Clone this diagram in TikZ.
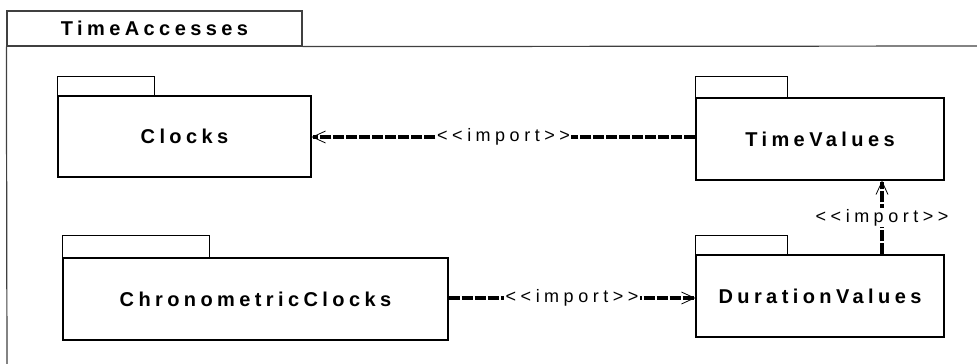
\documentclass[tikz,border=0pt]{standalone}
\usepackage{fontspec}
\setmainfont{Liberation Sans}
\newfontfamily\pkgfont[LetterSpace=22]{Liberation Sans}
\newfontfamily\lblfont[LetterSpace=25]{Liberation Sans}
\usetikzlibrary{arrows.meta}
\begin{document}
\begin{tikzpicture}[x=1pt,y=-1pt,
  pkg/.style={draw, line width=1.2pt, inner sep=0pt, font=\pkgfont\bfseries\fontsize{20}{23}\selectfont},
  pkgtab/.style={draw, line width=1.2pt},
  frame/.style={draw=black!75, line width=1.2pt},
  imp/.style={draw, line width=4pt, dash pattern=on 11pt off 2pt,
    -{Straight Barb[length=13pt,width=12pt,line width=0.8pt]}},
  lbl/.style={fill=white, inner sep=1.5pt, font=\lblfont\fontsize{18}{20}\selectfont}]
\useasboundingbox (0,0) rectangle (977,364);
\begin{scope}
\clip (0,0) rectangle (977,364);
% outer package frame
\node[frame, minimum width=295pt, minimum height=35pt, inner sep=0pt,
  font=\pkgfont\bfseries\fontsize{20}{23}\selectfont] (frametab) at (154.5,28.5) {TimeAccesses};
\draw[frame] (frametab.south west) -- (7,370);
\draw[frame] (frametab.south east) -- (990,46);
\end{scope}
% packages
\node[pkg, minimum width=253pt, minimum height=81pt] (clk) at (184.5,136.5) {Clocks};
\draw[pkgtab] (clk.north west) rectangle ++(97,-19);
\node[pkg, minimum width=248pt, minimum height=82pt] (tv) at (820,139) {TimeValues};
\draw[pkgtab] (tv.north west) rectangle ++(92,-21);
\node[pkg, minimum width=385pt, minimum height=82pt] (chr) at (255.5,299) {ChronometricClocks};
\draw[pkgtab] (chr.north west) rectangle ++(147,-22);
\node[pkg, minimum width=248pt, minimum height=82pt] (dur) at (820,296) {DurationValues};
\draw[pkgtab] (dur.north west) rectangle ++(92,-19);
% connectors
\coordinate (ya) at (0,137);
\coordinate (yb) at (0,298);
\coordinate (xc) at (882,0);
\draw[imp] (tv.west |- ya) -- node[lbl] {<<import>>} (clk.east |- ya);
\draw[imp] (chr.east |- yb) -- node[lbl] {<<import>>} (dur.west |- yb);
\draw[imp] (xc |- dur.north) -- node[lbl] {<<import>>} (xc |- tv.south);
\end{tikzpicture}
\end{document}
